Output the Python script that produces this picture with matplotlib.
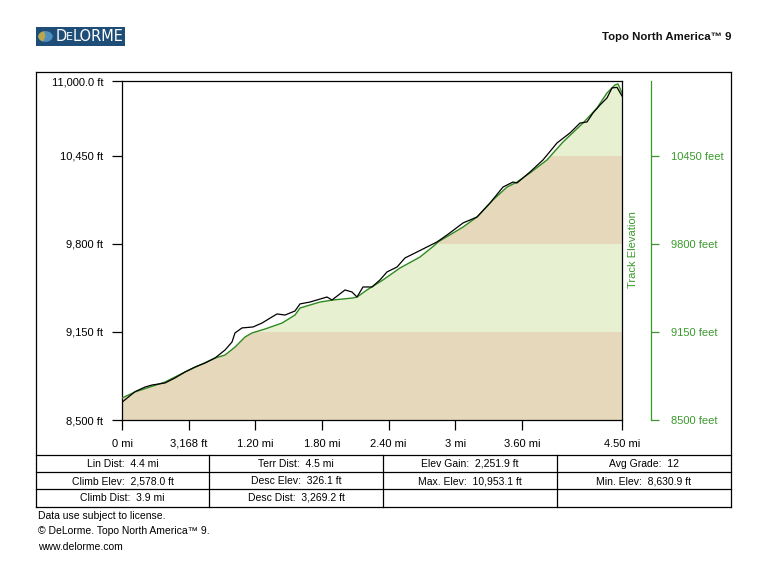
import matplotlib
matplotlib.use("Agg")
import matplotlib.pyplot as plt
from matplotlib.patches import Rectangle, Circle, Wedge
from matplotlib.lines import Line2D
import numpy as np

plt.rcParams['font.family'] = ['Liberation Sans', 'DejaVu Sans']

# ---------------- data ----------------
track_dist = [0.000, 0.117, 0.207, 0.270, 0.387, 0.477, 0.567, 0.657, 0.747, 0.837,
              0.927, 0.990, 1.017, 1.080, 1.179, 1.260, 1.350, 1.395, 1.467, 1.557,
              1.602, 1.692, 1.845, 1.890, 2.007, 2.070, 2.115, 2.169, 2.250, 2.322,
              2.385, 2.475, 2.547, 2.655, 2.745, 2.835, 2.925, 3.069, 3.195, 3.312,
              3.429, 3.519, 3.555, 3.672, 3.789, 3.915, 4.032, 4.122, 4.185, 4.239,
              4.302, 4.365, 4.410, 4.455, 4.500]
track_elev = [8631, 8709, 8743, 8758, 8773, 8810, 8854, 8891, 8920, 8957,
              9016, 9075, 9142, 9179, 9186, 9215, 9260, 9282, 9274, 9304,
              9356, 9370, 9407, 9385, 9459, 9444, 9407, 9481, 9481, 9533,
              9592, 9628, 9695, 9739, 9776, 9813, 9864, 9953, 9997, 10100,
              10218, 10255, 10248, 10329, 10418, 10543, 10617, 10690, 10698, 10764,
              10823, 10875, 10949, 10953, 10890]

terrain_dist = [0.000, 0.117, 0.387, 0.567, 0.837, 0.927, 1.017, 1.107, 1.170, 1.287,
                1.440, 1.557, 1.602, 1.782, 1.899, 2.079, 2.115, 2.205, 2.349, 2.502,
                2.682, 2.817, 2.844, 3.069, 3.195, 3.339, 3.465, 3.555, 3.672, 3.825,
                3.969, 4.149, 4.275, 4.365, 4.437, 4.464, 4.500]
terrain_elev = [8662, 8707, 8780, 8854, 8957, 8979, 9038, 9112, 9142, 9171,
                9215, 9274, 9326, 9370, 9385, 9400, 9407, 9459, 9533, 9621,
                9702, 9791, 9813, 9923, 9997, 10123, 10218, 10255, 10322, 10418,
                10550, 10690, 10801, 10912, 10971, 10978, 10912]

y_ticks = [8500, 9150, 9800, 10450, 11000]
y_labels = ["8,500 ft", "9,150 ft", "9,800 ft", "10,450 ft", "11,000.0 ft"]
x_ticks = [0, 0.6, 1.2, 1.8, 2.4, 3.0, 3.6, 4.5]
x_labels = ["0 mi", "3,168 ft", "1.20 mi", "1.80 mi", "2.40 mi", "3 mi", "3.60 mi", "4.50 mi"]
right_labels = ["8500 feet", "9150 feet", "9800 feet", "10450 feet", ""]

bands = [(8500, 9150), (9150, 9800), (9800, 10450), (10450, 11000)]
band_colors = ["#E6D8BA", "#E7F1D2", "#E6D8BA", "#E7F1D2"]

stats_rows = [
    ["Lin Dist:  4.4 mi", "Terr Dist:  4.5 mi", "Elev Gain:  2,251.9 ft", "Avg Grade:  12"],
    ["Climb Elev:  2,578.0 ft", "Desc Elev:  326.1 ft", "Max. Elev:  10,953.1 ft", "Min. Elev:  8,630.9 ft"],
    ["Climb Dist:  3.9 mi", "Desc Dist:  3,269.2 ft", "", ""],
]
footer = ["Data use subject to license.", "\u00a9 DeLorme. Topo North America\u2122 9.", "www.delorme.com"]

# ---------------- figure ----------------
W, H = 768, 572
fig = plt.figure(figsize=(W / 100, H / 100), dpi=100)
fig.patch.set_facecolor("white")

def fx(px):
    return px / W

def fy(py):
    return 1 - py / H

GREEN = "#3A9A2C"
LINE_GREEN = "#2F8A22"

ax = fig.add_axes([fx(122), fy(420), fx(622) - fx(122), fy(81) - fy(420)])
ax.set_xlim(0, 4.5)
ax.set_ylim(8500, 11000)

# fill under terrain profile with elevation bands
poly = ax.fill_between(terrain_dist, 8500, terrain_elev, color="none", lw=0)
clip_path = poly.get_paths()[0]
for (lo, hi), c in zip(bands, band_colors):
    sp = ax.axhspan(lo, hi, color=c, lw=0, zorder=1)
    sp.set_clip_path(clip_path, ax.transData)

ax.plot(terrain_dist, terrain_elev, color=LINE_GREEN, lw=1.0, zorder=3)
ax.plot(track_dist, track_elev, color="black", lw=0.9, zorder=4)

ax.set_yticks(y_ticks)
ax.set_yticklabels(y_labels)
ax.set_xticks(x_ticks)
ax.set_xticklabels([])
ax.tick_params(axis="both", direction="out", length=7.5, width=0.9, labelsize=8, colors="black")
ax.tick_params(axis="y", pad=6)
# x tick labels drawn at tick positions with a uniform baseline
xt = ax.get_xaxis_transform()
for xv, lab in zip(x_ticks, x_labels):
    ax.text(xv, (420 - 444) / 339, lab, transform=xt, ha="center", va="center",
            fontsize=8, clip_on=False)
for s in ax.spines.values():
    s.set_linewidth(0.9)
    s.set_color("black")

# right "Track Elevation" axis
ax2 = ax.twinx()
ax2.set_ylim(8500, 11000)
ax2.spines["right"].set_position(("outward", 21))
ax2.spines["right"].set_color(GREEN)
ax2.spines["right"].set_linewidth(0.9)
for k in ["left", "top", "bottom"]:
    ax2.spines[k].set_visible(False)
ax2.set_yticks(y_ticks)
ax2.set_yticklabels(right_labels)
ax2.tick_params(axis="y", direction="out", length=6, width=0.9, colors=GREEN, labelsize=8, pad=8)
ax2.yaxis.get_major_ticks()[-1].tick2line.set_visible(False)
fig.text(fx(633), fy(250), "Track Elevation", rotation=90, color=GREEN, fontsize=8,
         ha="center", va="center")

# outer frame and table
def hline(y, x0, x1):
    fig.add_artist(Line2D([fx(x0), fx(x1)], [fy(y), fy(y)], color="black", lw=0.9))

def vline(x, y0, y1):
    fig.add_artist(Line2D([fx(x), fx(x)], [fy(y0), fy(y1)], color="black", lw=0.9))

hline(72, 36, 731)
hline(455, 36, 731)
hline(472, 36, 731)
hline(489, 36, 731)
hline(507, 36, 731)
vline(36, 72, 507)
vline(731, 72, 507)
col_edges = [36, 209, 383, 557, 731]
for cx in col_edges[1:-1]:
    vline(cx, 455, 507)
row_centers = [464, 481, 498]
for r, row in enumerate(stats_rows):
    for c, txt in enumerate(row):
        if txt:
            fig.text(fx((col_edges[c] + col_edges[c + 1]) / 2), fy(row_centers[r]), txt,
                     ha="center", va="center", fontsize=7.5)

for i, t in enumerate(footer):
    fig.text(fx(38), fy(516 + i * 15.5), t, ha="left", va="center", fontsize=7.5)

# header
fig.text(fx(731), fy(37), "Topo North America\u2122 9", ha="right", va="center",
         fontsize=8.2, fontweight="bold", color="#111111")

# logo
fig.add_artist(Rectangle((fx(36), fy(46)), fx(125) - fx(36), fy(27) - fy(46),
                         transform=fig.transFigure, facecolor="#1E4D78", edgecolor="none"))
fig.add_artist(Circle((fx(45.5), fy(36.5)), fx(7.2), transform=fig.transFigure,
                      facecolor="#4F8FC0", edgecolor="none"))
fig.add_artist(Wedge((fx(45.5), fy(36.5)), fx(7.2), 100, 250, transform=fig.transFigure,
                     facecolor="#B9A748", edgecolor="none"))
fig.text(fx(55.5), fy(36.5), "D", color="white", fontsize=10.5, ha="left", va="center",
         family="DejaVu Sans")
fig.text(fx(66), fy(37.5), "E", color="white", fontsize=8, ha="left", va="center",
         family="DejaVu Sans")
fig.text(fx(72.5), fy(36.5), "LORME", color="white", fontsize=10.5, ha="left", va="center",
         family="DejaVu Sans")

fig.savefig("out.png", dpi=100, facecolor="white")
